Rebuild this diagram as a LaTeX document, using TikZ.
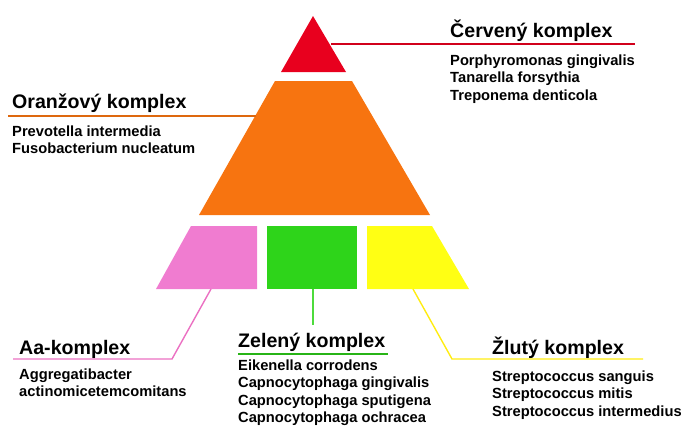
\documentclass[tikz,border=0pt]{standalone}
\usepackage{fontspec}
\setmainfont{Liberation Sans}
\usepackage{xcolor}
\usepackage{tikz}
\usetikzlibrary{positioning}

\definecolor{cred}{RGB}{232,0,30}
\definecolor{corange}{RGB}{247,116,16}
\definecolor{cpink}{RGB}{240,124,208}
\definecolor{cgreen}{RGB}{46,212,26}
\definecolor{cyellow}{RGB}{255,255,20}

\begin{document}
\begin{tikzpicture}[x=1pt, y=-1pt,
    ttl/.style={font=\fontsize{19.6}{22}\selectfont\bfseries, inner sep=0pt, anchor=base west},
    lst/.style={font=\fontsize{14.7}{17.5}\selectfont\bfseries, inner sep=0pt, align=left},
    lead/.style={line width=1.4pt, line join=miter}]
        \useasboundingbox (0,0) rectangle (681,426);

        % Pyramid
        \fill[cred] (313,16) -- (346,72) -- (281,72) -- cycle;
        \fill[corange] (275,81) -- (352,81) -- (430,215) -- (199,215) -- cycle;
        \fill[cpink] (191,226) -- (257,226) -- (257,289) -- (156,289) -- cycle;
        \fill[cgreen] (267,226) rectangle (357,289);
        \fill[cyellow] (367,226) -- (432,226) -- (469,289) -- (367,289) -- cycle;

        % Red complex
        \node[ttl] (redttl) at (450,37) {Červený komplex};
        \node[lst, below=13pt of redttl.south west, anchor=north west] (redlst)
            {Porphyromonas gingivalis\\ Tanarella forsythia\\ Treponema denticola};
        \coordinate (redfrom) at (331,44);
        \coordinate (redto) at (635,44);
        \draw[lead, cred!90!black] (redfrom) -- (redto);

        % Orange complex
        \node[ttl] (orgttl) at (12,108) {Oranžový komplex};
        \node[lst, below=13pt of orgttl.south west, anchor=north west] (orglst)
            {Prevotella intermedia\\ Fusobacterium nucleatum};
        \coordinate (orgfrom) at (256,116);
        \coordinate (orgto) at (8,116);
        \draw[lead, corange!90!black] (orgfrom) -- (orgto);

        % Aa complex
        \node[ttl] (aattl) at (19,354) {Aa-komplex};
        \node[lst, below=10pt of aattl.south west, anchor=north west] (aalst)
            {Aggregatibacter\\ actinomicetemcomitans};
        \coordinate (aafrom) at (211,289);
        \coordinate (aato) at (13,359);
        \draw[lead, cpink!90!purple] (aafrom) -- (172,359) -- (aato);

        % Green complex
        \node[ttl] (grnttl) at (238,347) {Zelený komplex};
        \node[lst, below=8pt of grnttl.south west, anchor=north west] (grnlst)
            {Eikenella corrodens\\ Capnocytophaga gingivalis\\ Capnocytophaga sputigena\\ Capnocytophaga ochracea};
        \coordinate (grnfrom) at (313,289);
        \coordinate (grnto) at (313,325);
        \draw[lead, cgreen!85!white] (grnfrom) -- (grnto);
        \draw[lead, cgreen!85!black] (grnttl.south west |- 0,354) -- (388,354);

        % Yellow complex
        \node[ttl] (ylwttl) at (492,354) {Žlutý komplex};
        \node[lst, below=12pt of ylwttl.south west, anchor=north west] (ylwlst)
            {Streptococcus sanguis\\ Streptococcus mitis\\ Streptococcus intermedius};
        \coordinate (ylwfrom) at (413,289);
        \coordinate (ylwto) at (643,359);
        \draw[lead, cyellow!85!orange] (ylwfrom) -- (452,359) -- (ylwto);
    \end{tikzpicture}
\end{document}
